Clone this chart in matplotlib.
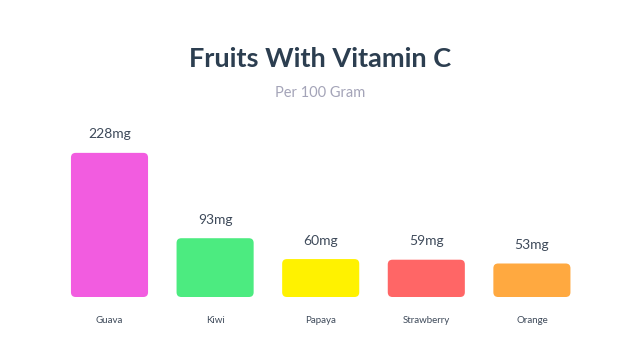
import matplotlib
matplotlib.use("Agg")
import matplotlib.pyplot as plt
from matplotlib.patches import FancyBboxPatch

# ---- data ----
fruits = ["Guava", "Kiwi", "Papaya", "Strawberry", "Orange"]
vitamin_c = [228, 93, 60, 59, 53]
colors = ["#f25ce0", "#4ceb80", "#fff200", "#ff6666", "#ffa940"]

title = "Fruits With Vitamin C"
subtitle = "Per 100 Gram"

plt.rcParams["font.family"] = ["Lato", "DejaVu Sans"]

fig = plt.figure(figsize=(6.4, 3.6), dpi=100)
ax = fig.add_axes([0.0886, 0.175, 0.825, 0.439])
ax.set_xlim(-0.5, len(fruits) - 0.5)
ax.set_ylim(0, 250)

bw = 0.73
bars = ax.bar(range(len(fruits)), vitamin_c, width=bw, color=colors)

# swap plain bars for rounded ones
x_per_px = 5.0 / (0.825 * 640)
y_per_px = 250.0 / (0.439 * 360)
aspect = y_per_px / x_per_px
for b, c in zip(bars, colors):
    b.remove()
    patch = FancyBboxPatch((b.get_x(), b.get_y()), b.get_width(), b.get_height(),
                           boxstyle="round,pad=0,rounding_size=0.045",
                           mutation_aspect=aspect, facecolor=c, edgecolor="none")
    ax.add_patch(patch)

for i, v in enumerate(vitamin_c):
    ax.annotate(f"{v}mg", (i, v), xytext=(0, 9), textcoords="offset points",
                ha="center", va="bottom", fontsize=10, color="#3e4a5a")

ax.set_xticks(range(len(fruits)))
ax.set_xticklabels(fruits, fontsize=7, color="#3e4a5a")
ax.tick_params(axis="x", length=0, pad=14)
ax.set_yticks([])
for s in ax.spines.values():
    s.set_visible(False)

fig.text(0.5, 0.836, title, ha="center", va="center", fontsize=19.5,
         fontweight="bold", color="#2c3e50")
fig.text(0.5, 0.743, subtitle, ha="center", va="center", fontsize=10.5,
         color="#a4a4b8")

fig.savefig("out.png", dpi=100)
